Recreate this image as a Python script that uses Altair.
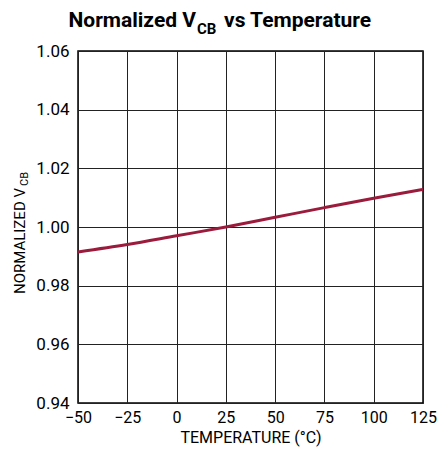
import altair as alt
import pandas as pd

temps = [-50, -25, 0, 25, 50, 75, 100, 125]
vcb = [0.9915, 0.9940, 0.9970, 1.0000, 1.0033, 1.0066, 1.0098, 1.0128]
x_ticks = [-50, -25, 0, 25, 50, 75, 100, 125]
y_ticks = [0.94, 0.96, 0.98, 1.00, 1.02, 1.04, 1.06]

FONT = "Roboto, Liberation Sans, sans-serif"
df = pd.DataFrame({"t": temps, "v": vcb})

W, H = 345, 352
PL, PT = 70, 43

base = alt.Chart(df)
line = base.mark_line(color="#9b1b3d", strokeWidth=3, interpolate="monotone").encode(
    x=alt.X("t:Q", scale=alt.Scale(domain=[-50, 125], nice=False),
            axis=alt.Axis(values=x_ticks, title="TEMPERATURE (°C)", grid=True,
                          ticks=False, labelPadding=6, titlePadding=4,
                          labelFontSize=16, titleFontSize=16,
                          labelFlush=False, labelOverlap=False)),
    y=alt.Y("v:Q", scale=alt.Scale(domain=[0.94, 1.06], nice=False, zero=False),
            axis=alt.Axis(values=y_ticks, format=".2f", title=None, grid=True,
                          ticks=False, labelPadding=9, labelFontSize=17,
                          labelFlush=False, labelOverlap=False)),
)

def txt(s, x, y, size, bold=False, angle=0, align="left"):
    return alt.Chart(pd.DataFrame({"s": [s]})).mark_text(
        align=align, baseline="alphabetic", font=FONT, fontSize=size,
        fontWeight="bold" if bold else "normal", color="black", angle=angle
    ).encode(text="s:N", x=alt.value(x), y=alt.value(y))

title_parts = [
    txt("Normalized V", 118, -24, 21, True, 0, "right"),
    txt("CB", 119, -17, 15, True),
    txt("vs Temperature", 146, -24, 21, True),
]
ytitle_parts = [
    txt("NORMALIZED V", -53, 137, 15, False, 270, "right"),
    txt("CB", -50, 135, 11, False, 270, "left"),
]

chart = alt.layer(line, *title_parts, *ytitle_parts).properties(
    width=W, height=H,
    autosize=alt.AutoSizeParams(type="none"),
    padding={"left": PL, "top": PT, "right": 15, "bottom": 45},
).configure_axis(
    labelFont=FONT, titleFont=FONT,
    titleFontWeight="normal", labelColor="black", titleColor="black",
    gridColor="#222", gridWidth=1, gridOpacity=1, domain=False,
).configure_view(stroke="black", strokeWidth=1.5)

chart.save("out.html", embed_options={"renderer": "svg", "actions": False})
